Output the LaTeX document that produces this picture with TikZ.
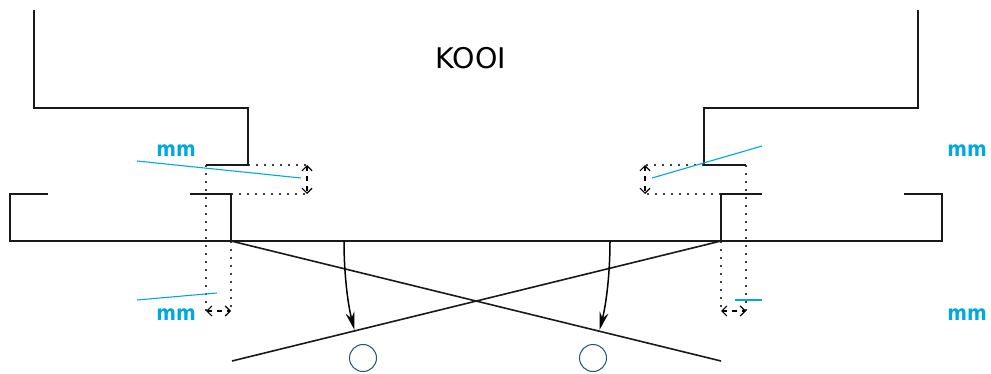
\documentclass[tikz,border=0pt]{standalone}
\usepackage{fontspec}
\usepackage{graphicx}
\setmainfont{DejaVu Sans}
\usetikzlibrary{arrows.meta}
\definecolor{cy}{HTML}{00A8E0}
\definecolor{circ}{HTML}{1F5573}
\tikzset{
 x=1pt,y=-1pt,
 wall/.style={line width=1.6pt,black!90,line join=miter},
 dots/.style={line width=1.8pt,black!75,dash pattern=on 1.8pt off 6.2pt},
 dim/.style={line width=1.2pt,black,dash pattern=on 5pt off 5pt,{Straight Barb[length=5pt,width=10pt]}-{Straight Barb[length=5pt,width=10pt]}},
 lead/.style={line width=1.1pt,cy},
 mmlabel/.style={text=cy,font=\bfseries\fontsize{21}{21}\selectfont,inner sep=0pt},
 fall/.style={line width=1.5pt,-{Stealth[length=18pt,width=9pt]}},
 drop/.style={circle,draw=circ,line width=1pt,minimum size=27pt,inner sep=0pt},
}
\begin{document}
\begin{tikzpicture}
\useasboundingbox (0,0) rectangle (991,374);
\coordinate (lA) at (248,165); \coordinate (lB) at (206,165);
\coordinate (lC) at (231,194); \coordinate (lD) at (231,241);
\coordinate (rA) at (704,165); \coordinate (rB) at (746,165);
\coordinate (rC) at (721,194); \coordinate (rD) at (721,241);
\coordinate (ldT) at (307,165); \coordinate (ldB) at (307,194);
\coordinate (rdT) at (645,165); \coordinate (rdB) at (645,194);
\coordinate (lwL) at (206,311); \coordinate (lwR) at (231,311);
\coordinate (rwL) at (721,311); \coordinate (rwR) at (746,311);
\coordinate (lEnd) at (721,361); \coordinate (rEnd) at (232,361);
\coordinate (fL) at (344,241); \coordinate (fR) at (610,241);
\coordinate (tL) at (354.5,330); \coordinate (tR) at (599.5,330);
% dotted guides
\draw[dots] (lA) -- (ldT); \draw[dots] (lC) -- (ldB);
\draw[dots] (rA) -- (rdT); \draw[dots] (rC) -- (rdB);
\draw[dots] (lB) -- (lwL); \draw[dots] (lD) -- (lwR);
\draw[dots] (rB) -- (rwR); \draw[dots] (rD) -- (rwL);
% walls
\draw[wall] (34,10) -- (34,108) -- (248,108) -- (lA) -- (lB);
\draw[wall] (918,10) -- (918,108) -- (704,108) -- (rA) -- (rB);
\draw[wall] (48,194) -- (10,194) -- (10,241) -- (942,241) -- (942,194) -- (904,194);
\draw[wall] (190,194) -- (lC) -- (lD);
\draw[wall] (762,194) -- (rC) -- (rD);
\draw[wall] (lD) -- (lEnd);
\draw[wall] (rD) -- (rEnd);
% dimensions
\draw[dim] (ldT) -- (ldB);
\draw[dim] (rdT) -- (rdB);
\draw[dim] (lwL) -- (lwR);
\draw[dim] (rwL) -- (rwR);
% fall arrows
\draw[fall] (fL) .. controls (344,275) and (348,305) .. (tL);
\draw[fall] (fR) .. controls (610,275) and (606,305) .. (tR);
% drops
\node[drop] (d1) at (363,358) {};
\node[drop] (d2) at (593,358) {};
% labels
\node[font=\fontsize{28.5}{28.5}\selectfont,inner sep=0pt] (kooi) at (471,58) {KOOI};
\node[mmlabel] (m1) at (176,150.5) {\scalebox{0.9}[1]{mm}};
\node[mmlabel] (m2) at (967,150.5) {\scalebox{0.9}[1]{mm}};
\node[mmlabel] (m3) at (176,314.5) {\scalebox{0.9}[1]{mm}};
\node[mmlabel] (m4) at (967,314.5) {\scalebox{0.9}[1]{mm}};
\coordinate (c1a) at (137,161); \coordinate (c1b) at (301,178);
\coordinate (c2a) at (137,300); \coordinate (c2b) at (217,293);
\coordinate (c3a) at (652,178); \coordinate (c3b) at (762,146);
\coordinate (c4a) at (735,300); \coordinate (c4b) at (762,300);
\draw[lead] (c1a) -- (c1b);
\draw[lead] (c2a) -- (c2b);
\draw[lead] (c3a) -- (c3b);
\draw[lead] (c4a) -- (c4b);
\end{tikzpicture}
\end{document}
